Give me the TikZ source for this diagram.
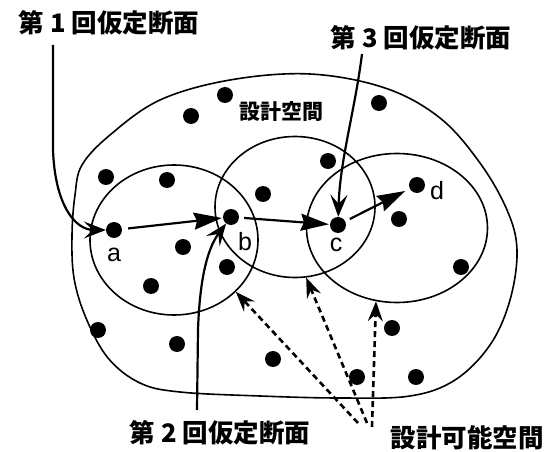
\documentclass[tikz,border=0pt]{standalone}
\usepackage{fontspec}
\setmainfont{Liberation Sans}
\newfontfamily\cjk{Noto Sans CJK JP}
\usetikzlibrary{arrows.meta,shapes.geometric}
\begin{document}
\begin{tikzpicture}[x=1pt,y=-1pt,
  dot/.style={circle,fill=black,inner sep=0pt,minimum size=16pt},
  region/.style={ellipse,draw=black,line width=1.6pt,inner sep=0pt},
  moveline/.style={line width=2.2pt,-{Stealth[length=28pt,width=17pt,inset=3pt]}},
  hintline/.style={line width=2.2pt,-{Stealth[length=22pt,width=17pt,inset=9pt]}},
  feasline/.style={line width=2.6pt,dash pattern=on 6pt off 4pt,-{Stealth[length=20pt,width=15pt,inset=7pt]}},
  biglabel/.style={font=\cjk\bfseries\fontsize{25.5}{25.5}\selectfont,inner sep=0pt},
  smalllabel/.style={font=\cjk\bfseries\fontsize{21}{21}\selectfont,inner sep=0pt},
  ptlabel/.style={font=\fontsize{25}{25}\selectfont,inner sep=0pt}]
\useasboundingbox (0,0) rectangle (558,452);

% design space boundary
\draw[line width=1.6pt] plot[smooth cycle,tension=0.6] coordinates {
  (310,74) (385,88) (440,118) (480,163) (507,210) (517,250) (510,300)
  (490,345) (455,380) (410,396) (340,398) (260,396) (180,392) (140,383)
  (108,358) (86,318) (74,278) (72,235) (75,195) (82,165) (110,135) (160,100) (230,80)};

% feasible regions
\node[region,minimum width=168pt,minimum height=150pt] (c1) at (174,240) {};
\node[region,minimum width=160pt,minimum height=141pt] (c2) at (295,207) {};
\node[region,minimum width=181pt,minimum height=149pt] (c3) at (397,228) {};

% design points
\node[dot] (a) at (114,230) {};
\node[dot] (b) at (231,217) {};
\node[dot] (c) at (338,225) {};
\node[dot] (d) at (417,185) {};
\foreach \p [count=\i] in {(225,95),(191,116),(106,177),(167,180),(263,194),(183,247),
  (227,267),(151,286),(328,161),(399,219),(461,267),(379,103),(98,330),(177,344),
  (273,359),(357,377),(392,328),(416,377)}
  \node[dot] (p\i) at \p {};

% point labels
\node[ptlabel] (la) at (114,255) {a};
\node[ptlabel] (lb) at (245,242) {b};
\node[ptlabel] (lc) at (336,245) {c};
\node[ptlabel] (ld) at (437,191) {d};

% text labels
\node[biglabel] (t1) at (109,23) {第 1 回仮定断面};
\node[biglabel] (t3) at (421,38) {第 3 回仮定断面};
\node[biglabel] (t2) at (220,433) {第 2 回仮定断面};
\node[biglabel] (tf) at (467,438) {設計可能空間};
\node[smalllabel] (ts) at (281,112) {設計空間};

% moves between points
\draw[moveline,shorten <=6pt,shorten >=1pt] (a) -- (b);
\draw[moveline,shorten <=5pt,shorten >=1pt] (b) -- (c);
\draw[moveline,shorten <=5pt,shorten >=5pt] (c) -- (d);

% label arrows
\coordinate (s1) at (53,45);
\coordinate (s3) at (362,54);
\coordinate (s2) at (197,410);
\draw[hintline] (s1) -- (53,150) .. controls (55,205) and (75,230) .. (a);
\draw[hintline] (s3) .. controls (355,110) and (340,160) .. (c);
\draw[hintline] (s2) -- (198,330) .. controls (200,270) and (210,245) .. (b);

% feasible region arrows
\coordinate (f1) at (358,423);
\coordinate (f2) at (367,423);
\coordinate (f3) at (372,427);
\draw[feasline] (f1) -- (c1.-40);
\draw[feasline] (f2) -- (c2.-81);
\draw[feasline] (f3) -- (c3.-106);
\end{tikzpicture}
\end{document}
